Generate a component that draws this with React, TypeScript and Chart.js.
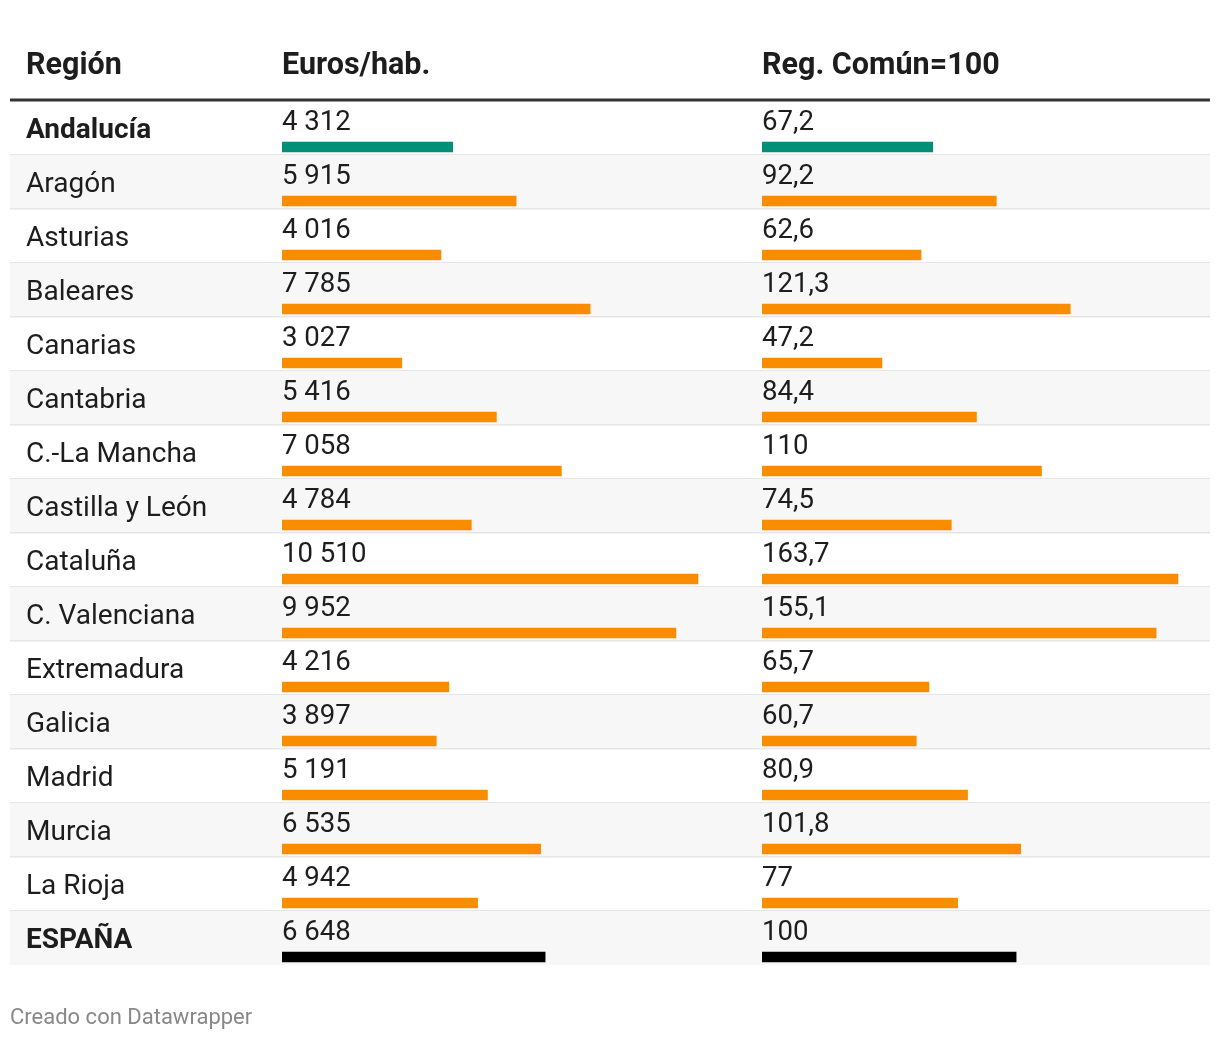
import React, { useEffect, useRef } from "react";
import { Chart, registerables } from "chart.js";

Chart.register(...registerables);

// ---- data ----
const regions: string[] = [
  "Andalucía", "Aragón", "Asturias", "Baleares", "Canarias", "Cantabria",
  "C.-La Mancha", "Castilla y León", "Cataluña", "C. Valenciana", "Extremadura",
  "Galicia", "Madrid", "Murcia", "La Rioja", "ESPAÑA",
];
const eurosPerHab: number[] = [
  4312, 5915, 4016, 7785, 3027, 5416, 7058, 4784, 10510, 9952, 4216, 3897, 5191, 6535, 4942, 6648,
];
const regComun100: number[] = [
  67.2, 92.2, 62.6, 121.3, 47.2, 84.4, 110, 74.5, 163.7, 155.1, 65.7, 60.7, 80.9, 101.8, 77, 100,
];
const headers: string[] = ["Región", "Euros/hab.", "Reg. Común=100"];
const highlightRows: string[] = ["Andalucía"];
const totalRows: string[] = ["ESPAÑA"];
const footer = "Creado con Datawrapper";

// ---- styles ----
const ORANGE = "#fa8c00";
const TEAL = "#009076";
const BLACK = "#000000";
const TEXT = "#1d1d1d";
const FONT = "Roboto, 'Noto Sans', sans-serif";

const barColor = (r: string) =>
  highlightRows.includes(r) ? TEAL : totalRows.includes(r) ? BLACK : ORANGE;

const fmtEuros = (n: number) => String(n).replace(/\B(?=(\d{3})+(?!\d))/g, " ");
const fmtIndex = (n: number) => String(n).replace(".", ",");

const tablePlugin = {
  id: "tableDecor",
  beforeDatasetsDraw(chart: any) {
    const ctx = chart.ctx as CanvasRenderingContext2D;
    const y = chart.scales.y;
    ctx.save();
    regions.forEach((_, i) => {
      const c = y.getPixelForValue(i);
      if (i % 2 === 1) {
        ctx.fillStyle = "#f7f7f7";
        ctx.fillRect(10, c - 46, 1200, 54);
      }
      if (i < regions.length - 1) {
        ctx.fillStyle = "#e6e6e6";
        ctx.fillRect(10, c + 7, 1200, 1.5);
      }
    });
    // header rule
    ctx.fillStyle = "#333333";
    ctx.fillRect(10, y.getPixelForValue(0) - 48.5, 1200, 3);
    ctx.restore();
  },
  afterDatasetsDraw(chart: any) {
    const ctx = chart.ctx as CanvasRenderingContext2D;
    const y = chart.scales.y;
    const x1 = chart.scales.x1;
    const x2 = chart.scales.x2;
    ctx.save();
    ctx.textBaseline = "alphabetic";
    ctx.textAlign = "left";
    // headers
    ctx.fillStyle = TEXT;
    ctx.font = `bold 30.5px ${FONT}`;
    const hb = y.getPixelForValue(0) - 72.7;
    ctx.fillText(headers[0], 26, hb);
    ctx.fillText(headers[1], x1.left, hb);
    ctx.fillText(headers[2], x2.left, hb);
    regions.forEach((r, i) => {
      const c = y.getPixelForValue(i);
      const bold = highlightRows.includes(r) || totalRows.includes(r);
      ctx.fillStyle = TEXT;
      ctx.font = `${bold ? "bold " : ""}28px ${FONT}`;
      ctx.fillText(r, 26, c - 9.3);
      ctx.font = `27.6px ${FONT}`;
      ctx.fillText(fmtEuros(eurosPerHab[i]), x1.left, c - 16.7);
      ctx.fillText(fmtIndex(regComun100[i]), x2.left, c - 16.7);
    });
    // footer
    ctx.fillStyle = "#888888";
    ctx.font = `22px ${FONT}`;
    ctx.fillText(footer, 10, 1024);
    ctx.restore();
  },
};

export default function App() {
  const ref = useRef<HTMLCanvasElement | null>(null);
  useEffect(() => {
    if (!ref.current) return;
    const colors = regions.map(barColor);
    const chart = new Chart(ref.current, {
      type: "bar",
      data: {
        labels: regions,
        datasets: [
          {
            label: headers[1],
            data: eurosPerHab,
            xAxisID: "x1",
            yAxisID: "y",
            backgroundColor: colors,
            borderWidth: 0,
            barThickness: 10,
            grouped: false,
          } as any,
          {
            label: headers[2],
            data: regComun100,
            xAxisID: "x2",
            yAxisID: "y",
            backgroundColor: colors,
            borderWidth: 0,
            barThickness: 10,
            grouped: false,
          } as any,
        ],
      },
      options: {
        indexAxis: "y",
        animation: false,
        responsive: false,
        devicePixelRatio: 1,
        layout: { padding: { left: 282, right: 10, top: 120, bottom: 56 } },
        scales: {
          x1: {
            type: "linear",
            position: "bottom",
            stack: "cols",
            stackWeight: 480,
            min: 0,
            max: 12127,
            display: false,
          } as any,
          x2: {
            type: "linear",
            position: "bottom",
            stack: "cols",
            stackWeight: 448,
            min: 0,
            max: 176.3,
            display: false,
          } as any,
          y: { type: "category", display: false, offset: true },
        },
        plugins: { legend: { display: false }, tooltip: { enabled: false } },
      },
      plugins: [tablePlugin],
    });
    return () => chart.destroy();
  }, []);
  return (
    <div style={{ position: "absolute", left: 0, top: 0, width: 1220, height: 1040, background: "#fff" }}>
      <canvas ref={ref} width={1220} height={1040} style={{ display: "block", width: 1220, height: 1040 }} />
    </div>
  );
}
